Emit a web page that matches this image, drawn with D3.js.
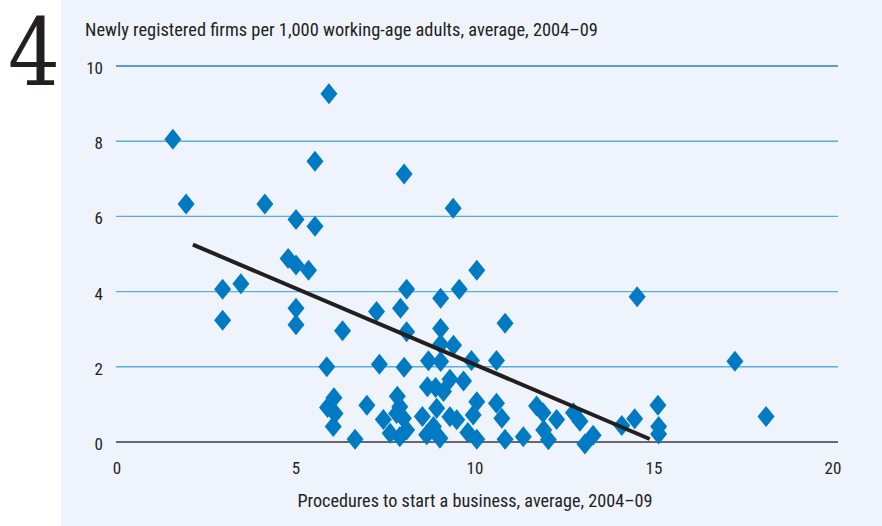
<!DOCTYPE html>
<html><head><meta charset="utf-8">
<script src="https://cdn.jsdelivr.net/npm/d3@7"></script>
<style>
html,body{margin:0;padding:0;background:#fff;}
svg{display:block;}
text.lbl{font-family:"Liberation Sans Narrow","Roboto Condensed","Arial Narrow","Liberation Sans",sans-serif;fill:#231f20;}
text.num{font-family:"DejaVu Serif","Liberation Serif",serif;fill:#231f20;}
</style></head>
<body>
<script>
// Procedures to start a business (x) and newly registered firms per 1,000 adults (y)
const procedures = [1.56,1.93,2.95,2.95,3.46,4.13,4.78,5.0,5.0,5.0,5.0,5.35,5.53,5.53,5.92,6.3,7.25,8.02,7.92,8.09,8.09,9.04,9.39,9.56,10.05,10.84,9.04,9.04,9.4,14.53,17.26,18.13,
 5.86,7.33,8.02,8.7,9.04,9.9,10.6,
 6.06,5.88,6.09,6.04,6.65,6.98,7.83,7.44,7.63,7.81,7.9,8.0,7.9,8.09,8.53,8.67,8.9,9.12,9.3,9.68,8.65,8.93,8.84,9.02,9.3,9.49,9.8,10.05,9.95,10.05,10.6,10.75,10.84,11.35,11.72,11.9,11.92,12.05,12.28,12.75,12.93,13.07,13.3,14.1,14.46,15.11,15.13,15.13];
const newFirms = [8.05,6.33,4.06,3.24,4.21,6.33,4.88,4.71,5.92,3.56,3.12,4.57,7.47,5.74,9.26,2.96,3.47,7.13,3.56,4.06,2.93,3.82,6.22,4.06,4.57,3.16,3.02,2.6,2.57,3.86,2.15,0.68,
 2.0,2.07,1.99,2.16,2.14,2.17,2.17,
 1.18,0.92,0.76,0.41,0.07,0.98,1.22,0.6,0.23,0.76,0.94,0.63,0.14,0.32,0.68,1.47,1.45,1.34,1.67,1.62,0.19,0.9,0.41,0.1,0.67,0.59,0.25,1.07,0.72,0.07,1.03,0.63,0.07,0.14,0.96,0.78,0.32,0.06,0.6,0.78,0.55,-0.05,0.18,0.44,0.62,0.98,0.41,0.21];
const trendX = [2.12, 14.88];
const trendY = [5.25, 0.08];
const xTicks = [0,5,10,15,20];
const yTicks = [0,2,4,6,8,10];
const chartNumber = "4";
const yTitle = "Newly registered firms per 1,000 working-age adults, average, 2004–09";
const xTitle = "Procedures to start a business, average, 2004–09";

const W = 882, H = 526;
const svg = d3.select("body").append("svg").attr("width", W).attr("height", H);

svg.append("rect").attr("x", 61).attr("y", 0).attr("width", W - 61).attr("height", H).attr("fill", "#eff3fb");

const x = d3.scaleLinear().domain([0, 20]).range([117, 833]);
const y = d3.scaleLinear().domain([0, 10]).range([442, 66]);

// gridlines
svg.append("g").selectAll("line").data(yTicks).join("line")
  .attr("x1", 116).attr("x2", 838)
  .attr("y1", d => y(d)).attr("y2", d => y(d))
  .attr("stroke", d => d === 0 ? "#3a3a3c" : (d === 10 ? "#2a7fc0" : "#58aee0"))
  .attr("stroke-width", d => d === 0 ? 1.6 : 1.4);

// y labels
svg.append("g").selectAll("text").data(yTicks).join("text")
  .attr("class", "lbl")
  .attr("x", 103).attr("y", d => y(d) + 8)
  .attr("text-anchor", "end").attr("font-size", 17)
  .text(d => d);

// x labels
svg.append("g").selectAll("text").data(xTicks).join("text")
  .attr("class", "lbl")
  .attr("x", d => x(d)).attr("y", 474)
  .attr("text-anchor", "middle").attr("font-size", 17)
  .text(d => d);

// titles
svg.append("text").attr("class", "lbl").attr("x", 85).attr("y", 36).attr("font-size", 18.4).text(yTitle);
svg.append("text").attr("class", "lbl").attr("x", 475).attr("y", 507).attr("text-anchor", "middle").attr("font-size", 18.2).text(xTitle);

svg.append("text").attr("class", "num").attr("x", 8).attr("y", 85)
  .attr("font-size", 94).attr("textLength", 52).attr("lengthAdjust", "spacingAndGlyphs")
  .text(chartNumber);

// diamonds
const pts = procedures.map((p, i) => [p, newFirms[i]]);
const dw = 8.5, dh = 10.5;
svg.append("g").selectAll("path").data(pts).join("path")
  .attr("d", d => {
    const cx = x(d[0]), cy = y(d[1]);
    return `M${cx},${cy - dh}L${cx + dw},${cy}L${cx},${cy + dh}L${cx - dw},${cy}Z`;
  })
  .attr("fill", "#007bc3");

// trend line
svg.append("path")
  .datum(trendX.map((v, i) => [v, trendY[i]]))
  .attr("d", d3.line().x(d => x(d[0])).y(d => y(d[1])))
  .attr("stroke", "#231f20").attr("stroke-width", 4).attr("fill", "none");
</script>
</body></html>
